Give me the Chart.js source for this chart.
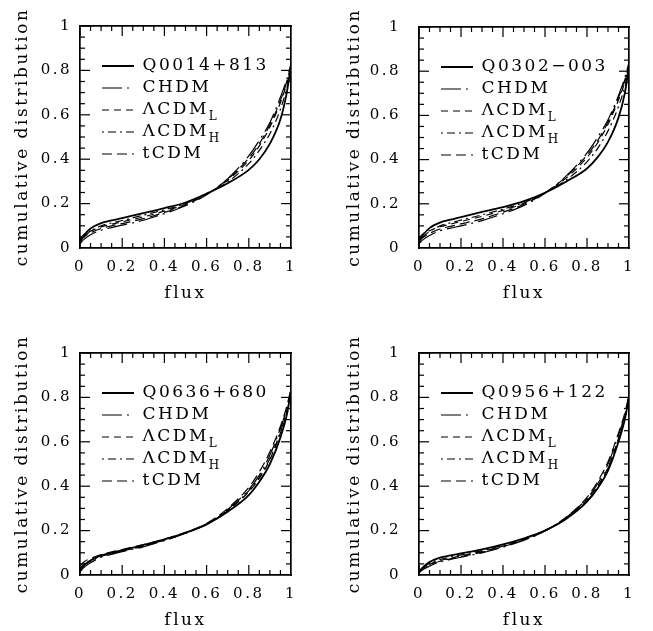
<!DOCTYPE html>
<html lang="en">
  <head>
    <meta charset="UTF-8" />
    <meta name="viewport" content="width=device-width, initial-scale=1.0" />
    <script src="https://cdn.jsdelivr.net/npm/chart.js@4.4.0/dist/chart.umd.min.js"></script>
    <title>Cumulative flux distributions</title>
    <style>
      body { margin: 0; background: #fff; overflow: hidden; }
      canvas { position: absolute; }
    </style>
  </head>
  <body>
    <canvas id="c0"></canvas>
    <canvas id="c1"></canvas>
    <canvas id="c2"></canvas>
    <canvas id="c3"></canvas>

    <script>
      // flux grid shared by every curve
      const flux = [0, 0.02, 0.05, 0.1, 0.15, 0.2, 0.3, 0.4, 0.5, 0.6, 0.7, 0.8, 0.85, 0.9, 0.95, 0.98, 1];

      // tick positions on both axes (0..1)
      const majorTicks = [0, 0.2, 0.4, 0.6, 0.8, 1];
      const minorTicks = [0.05, 0.1, 0.15, 0.25, 0.3, 0.35, 0.45, 0.5, 0.55, 0.65, 0.7, 0.75, 0.85, 0.9, 0.95];

      const quasars = ["Q0014+813", "Q0302\u2212003", "Q0636+680", "Q0956+122"];
      const modelNames = ["CHDM", "\u039BCDM", "\u039BCDM", "tCDM"];
      const modelSubs = ["", "L", "H", ""];

      // Q0014+813
      const q0014Obs = [0.03, 0.058, 0.088, 0.112, 0.124, 0.135, 0.157, 0.18, 0.205, 0.245, 0.292, 0.352, 0.4, 0.47, 0.58, 0.7, 0.82];
      const q0014Chdm = [0.02, 0.04, 0.06, 0.08, 0.092, 0.103, 0.125, 0.155, 0.19, 0.24, 0.312, 0.415, 0.485, 0.565, 0.68, 0.76, 0.83];
      const q0014LcdmL = [0.04, 0.062, 0.076, 0.095, 0.107, 0.118, 0.14, 0.166, 0.198, 0.243, 0.305, 0.395, 0.46, 0.545, 0.655, 0.74, 0.81];
      const q0014LcdmH = [0.025, 0.05, 0.075, 0.1, 0.113, 0.124, 0.148, 0.172, 0.201, 0.244, 0.298, 0.38, 0.44, 0.515, 0.625, 0.72, 0.8];
      const q0014Tcdm = [0.03, 0.05, 0.068, 0.088, 0.1, 0.11, 0.132, 0.16, 0.194, 0.242, 0.31, 0.405, 0.47, 0.555, 0.665, 0.75, 0.82];

      // Q0302-003
      const q0302Obs = [0.03, 0.06, 0.09, 0.115, 0.128, 0.14, 0.163, 0.185, 0.212, 0.25, 0.3, 0.36, 0.41, 0.48, 0.59, 0.7, 0.82];
      const q0302Chdm = [0.02, 0.038, 0.057, 0.078, 0.09, 0.1, 0.124, 0.155, 0.193, 0.248, 0.325, 0.43, 0.5, 0.58, 0.69, 0.77, 0.84];
      const q0302LcdmL = [0.045, 0.065, 0.078, 0.096, 0.108, 0.12, 0.143, 0.17, 0.203, 0.25, 0.316, 0.41, 0.475, 0.56, 0.67, 0.75, 0.82];
      const q0302LcdmH = [0.025, 0.05, 0.075, 0.1, 0.114, 0.126, 0.15, 0.176, 0.206, 0.25, 0.307, 0.39, 0.45, 0.53, 0.64, 0.73, 0.81];
      const q0302Tcdm = [0.03, 0.048, 0.066, 0.086, 0.098, 0.109, 0.132, 0.162, 0.198, 0.249, 0.322, 0.42, 0.485, 0.57, 0.68, 0.76, 0.83];

      // Q0636+680
      const q0636Obs = [0.02, 0.045, 0.065, 0.088, 0.1, 0.112, 0.135, 0.16, 0.19, 0.228, 0.285, 0.36, 0.42, 0.5, 0.62, 0.72, 0.83];
      const q0636Chdm = [0.015, 0.035, 0.055, 0.08, 0.093, 0.105, 0.127, 0.155, 0.188, 0.23, 0.295, 0.385, 0.45, 0.54, 0.66, 0.75, 0.83];
      const q0636LcdmL = [0.03, 0.05, 0.066, 0.085, 0.097, 0.108, 0.13, 0.157, 0.189, 0.229, 0.29, 0.375, 0.435, 0.52, 0.64, 0.73, 0.82];
      const q0636LcdmH = [0.025, 0.045, 0.062, 0.084, 0.097, 0.108, 0.131, 0.158, 0.19, 0.23, 0.292, 0.38, 0.44, 0.525, 0.645, 0.74, 0.82];
      const q0636Tcdm = [0.04, 0.06, 0.074, 0.092, 0.104, 0.115, 0.137, 0.162, 0.192, 0.232, 0.3, 0.395, 0.465, 0.555, 0.67, 0.76, 0.84];

      // Q0956+122
      const q0956Obs = [0.01, 0.035, 0.058, 0.078, 0.088, 0.097, 0.115, 0.138, 0.165, 0.2, 0.252, 0.33, 0.39, 0.47, 0.6, 0.7, 0.8];
      const q0956Chdm = [0.01, 0.025, 0.04, 0.058, 0.07, 0.08, 0.1, 0.125, 0.157, 0.198, 0.258, 0.345, 0.41, 0.5, 0.63, 0.72, 0.81];
      const q0956LcdmL = [0.02, 0.035, 0.048, 0.065, 0.076, 0.086, 0.106, 0.13, 0.16, 0.2, 0.255, 0.34, 0.4, 0.485, 0.615, 0.71, 0.8];
      const q0956LcdmH = [0.015, 0.035, 0.052, 0.07, 0.081, 0.091, 0.11, 0.134, 0.163, 0.201, 0.254, 0.335, 0.395, 0.48, 0.61, 0.705, 0.8];
      const q0956Tcdm = [0.015, 0.03, 0.045, 0.062, 0.073, 0.083, 0.103, 0.128, 0.158, 0.199, 0.26, 0.35, 0.42, 0.51, 0.64, 0.73, 0.81];

      const FONT = "DejaVu Serif";
      const SPACING = "2.5px";
      const dashes = [[], [20, 5, 2, 5], [7, 5], [2, 4, 8, 4], [10, 5]];
      const widths = [1.8, 1.2, 1.2, 1.2, 1.2];

      // canvas box and plot area in page pixels
      const panels = [
        { id: "c0", name: quasars[0], series: [q0014Obs, q0014Chdm, q0014LcdmL, q0014LcdmH, q0014Tcdm],
          box: [0, 0, 326, 316], area: [80, 26, 291, 248], labelGap: 10, titleX: 23 },
        { id: "c1", name: quasars[1], series: [q0302Obs, q0302Chdm, q0302LcdmL, q0302LcdmH, q0302Tcdm],
          box: [326, 0, 327, 316], area: [419, 26, 629, 248], labelGap: 20, titleX: 355 },
        { id: "c2", name: quasars[2], series: [q0636Obs, q0636Chdm, q0636LcdmL, q0636LcdmH, q0636Tcdm],
          box: [0, 316, 326, 315], area: [80, 353, 291, 575], labelGap: 10, titleX: 23 },
        { id: "c3", name: quasars[3], series: [q0956Obs, q0956Chdm, q0956LcdmL, q0956LcdmH, q0956Tcdm],
          box: [326, 316, 327, 315], area: [419, 353, 629, 575], labelGap: 20, titleX: 355 },
      ];

      // legend placement and subscripts on the model names
      const panelDecor = {
        id: "panelDecor",
        beforeUpdate(chart) { chart.ctx.letterSpacing = SPACING; },
        beforeDraw(chart) { chart.ctx.letterSpacing = SPACING; },
        afterLayout(chart) {
          const lg = chart.legend;
          const a = chart.chartArea;
          lg.left = a.left + 17;
          lg.top = a.top + 26.5;
        },
        afterDraw(chart) {
          const ctx = chart.ctx;
          const lg = chart.legend;
          ctx.save();
          ctx.fillStyle = "#000";
          ctx.letterSpacing = "0px";
          ctx.font = "12px '" + FONT + "'";
          ctx.textBaseline = "middle";
          lg.legendItems.forEach((item, i) => {
            const sub = chart.data.datasets[item.datasetIndex].sub;
            const hb = lg.legendHitBoxes[i];
            if (sub && hb) ctx.fillText(sub, hb.left + hb.width, hb.top + hb.height / 2 + 7);
          });
          ctx.restore();
        },
      };

      // inward tick marks: short line markers sitting on the frame, clipped to the plot area
      function tickSet(points, halfLength, rotation) {
        return {
          label: "ticks",
          data: points,
          showLine: false,
          clip: 0,
          pointStyle: "line",
          pointRadius: halfLength,
          pointHoverRadius: halfLength,
          pointRotation: rotation,
          pointBorderWidth: 1.2,
          pointBorderColor: "#000",
          pointBackgroundColor: "#000",
          borderColor: "#000",
        };
      }

      function frameAxis(position, weight, extra) {
        return Object.assign({
          type: "linear", position: position, min: 0, max: 1, weight: weight,
          ticks: { display: false, stepSize: 0.2 },
          grid: { display: false, drawOnChartArea: false, drawTicks: false },
          border: { display: true, color: "#000", width: 1.7 },
          afterFit: (s) => { if (s.isHorizontal()) s.height = 0; else s.width = 0; },
        }, extra);
      }

      const tickLabel = (v) => String(Math.round(v * 10) / 10);

      function legendLabels(chart) {
        const items = Chart.defaults.plugins.legend.labels.generateLabels(chart);
        items.forEach((item) => {
          const ds = chart.data.datasets[item.datasetIndex];
          item.lineDash = ds.borderDash || [];
          item.lineWidth = ds.borderWidth;
          item.strokeStyle = "#000";
          item.fillStyle = "#000";
          item.fontColor = "#000";
          item.pointStyle = "line";
        });
        return items;
      }

      panels.forEach((p) => {
        const canvas = document.getElementById(p.id);
        const [cx, cy, cw, ch] = p.box;
        canvas.width = cw;
        canvas.height = ch;
        canvas.style.left = cx + "px";
        canvas.style.top = cy + "px";
        const top = p.area[1] - cy;
        const right = p.area[2] - cx;
        const bottom = p.area[3] - cy;
        const yWidth = p.area[0] - cx;
        const names = [p.name].concat(modelNames);
        const subs = [""].concat(modelSubs);

        const datasets = p.series.map((vals, i) => ({
          label: names[i],
          sub: subs[i],
          data: flux.map((f, k) => ({ x: f, y: vals[k] })),
          borderColor: "#000",
          backgroundColor: "#000",
          borderWidth: widths[i],
          borderDash: dashes[i],
          pointRadius: 0,
          pointHoverRadius: 0,
          pointStyle: "line",
          cubicInterpolationMode: "monotone",
          fill: false,
        }));
        const curveCount = datasets.length;

        // ticks on bottom/top (vertical marks) and left/right (horizontal marks)
        datasets.push(tickSet(majorTicks.flatMap((v) => [{ x: v, y: 0 }, { x: v, y: 1 }]), 10, 90));
        datasets.push(tickSet(minorTicks.flatMap((v) => [{ x: v, y: 0 }, { x: v, y: 1 }]), 5, 90));
        datasets.push(tickSet(majorTicks.flatMap((v) => [{ x: 0, y: v }, { x: 1, y: v }]), 10, 0));
        datasets.push(tickSet(minorTicks.flatMap((v) => [{ x: 0, y: v }, { x: 1, y: v }]), 5, 0));

        new Chart(canvas, {
          type: "line",
          data: { datasets: datasets },
          plugins: [panelDecor],
          options: {
            responsive: false,
            animation: false,
            devicePixelRatio: 1,
            events: [],
            layout: { padding: { left: 0, top: top, right: cw - right, bottom: 0 } },
            plugins: {
              tooltip: { enabled: false },
              legend: {
                position: "chartArea",
                align: "start",
                labels: {
                  usePointStyle: true, pointStyle: "line", pointStyleWidth: 32,
                  padding: 5, color: "#000", font: { family: FONT, size: 17 },
                  generateLabels: legendLabels,
                  filter: (item) => item.datasetIndex < curveCount,
                },
              },
            },
            scales: {
              x: frameAxis("bottom", 1, {
                ticks: { display: true, stepSize: 0.2, autoSkip: false, maxRotation: 0, padding: 10,
                  color: "#000", font: { family: FONT, size: 15 }, callback: tickLabel },
                title: { display: true, text: "flux", color: "#000", font: { family: FONT, size: 17 },
                  padding: { top: 0, bottom: Math.max(0, ch - bottom - 46 - 10.2) } },
                afterFit: (s) => { s.height = ch - bottom; },
              }),
              xTop: frameAxis("top", 1),
              y: frameAxis("left", 1, {
                ticks: { display: true, stepSize: 0.2, autoSkip: false, padding: p.labelGap - 2,
                  color: "#000", font: { family: FONT, size: 15 }, callback: tickLabel },
                title: { display: true, text: "cumulative distribution", color: "#000",
                  font: { family: FONT, size: 17 }, padding: { top: p.titleX - cx - 10.2, bottom: 0 } },
                afterFit: (s) => { s.width = yWidth; },
              }),
              yRight: frameAxis("right", 1),
            },
          },
        });
      });
    </script>
  </body>
</html>
